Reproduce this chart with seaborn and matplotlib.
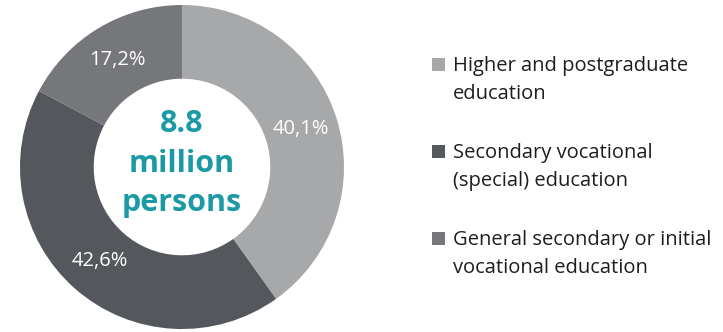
import matplotlib
matplotlib.use("Agg")
import matplotlib.pyplot as plt
import seaborn as sns
from matplotlib.patches import Rectangle

categories = ["Higher and postgraduate\neducation",
              "Secondary vocational\n(special) education",
              "General secondary or initial\nvocational education"]
values = [40.1, 42.6, 17.2]
pct_labels = ["40,1%", "42,6%", "17,2%"]
center_text = "8.8\nmillion\npersons"
colors = ["#A7A8AA", "#54575C", "#75777A"]

sns.set_theme(style="white")
plt.rcParams['font.family'] = ['Open Sans', 'DejaVu Sans']

W, H = 723, 332
fig = plt.figure(figsize=(W/100, H/100), dpi=100)
cx, cy, R = 182, 167, 162
half = 166
ax = fig.add_axes([(cx-half)/W, (H-cy-half)/H, 2*half/W, 2*half/H])
wedges, texts, autotexts = ax.pie(values, colors=colors, startangle=90, counterclock=False,
       radius=1, wedgeprops=dict(width=0.455, edgecolor="none"),
       autopct=lambda p: "", pctdistance=0.77)
for t, lab in zip(autotexts, pct_labels):
    t.set_text(lab)
    t.set_color("white")
    t.set_fontsize(14.5)
ax.set_xlim(-half/R, half/R)
ax.set_ylim(-half/R, half/R)
ax.set_aspect("equal")
ax.axis("off")
ax.text(0, 0.02, center_text, ha="center", va="center", color="#1B9AA6",
        fontsize=22, fontweight="bold", linespacing=1.42)

# legend drawn manually in figure pixel coordinates
def fx(px):
    return px / W
def fy(py):
    return 1 - py / H

for i, (lab, c) in enumerate(zip(categories, colors)):
    base = 71 + 87 * i
    fig.patches.append(Rectangle((fx(432), fy(base)), 13/W, 13/H, transform=fig.transFigure,
                                 facecolor=c, edgecolor="none"))
    for j, line in enumerate(lab.split("\n")):
        fig.text(fx(453), fy(base + 28 * j), line, ha="left", va="baseline",
                 fontsize=14.5, color="#1E1E1E")

fig.savefig("out.png", dpi=100)
